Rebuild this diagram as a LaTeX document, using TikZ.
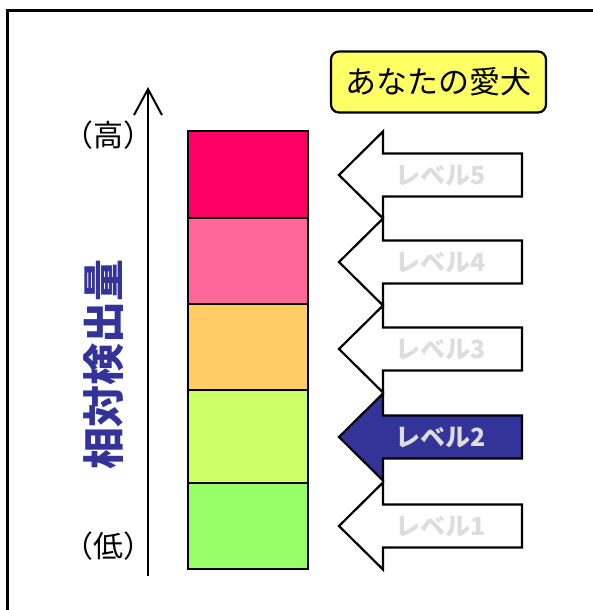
\documentclass[tikz,border=0pt]{standalone}
\usepackage{fontspec}
\setmainfont{Noto Sans CJK JP}
\usetikzlibrary{arrows.meta}
\definecolor{c5}{HTML}{FF0066}
\definecolor{c4}{HTML}{FF6699}
\definecolor{c3}{HTML}{FFCC66}
\definecolor{c2}{HTML}{CCFF66}
\definecolor{c1}{HTML}{99FF66}
\definecolor{navy}{HTML}{333399}
\definecolor{lvgray}{HTML}{DDDDDD}
\definecolor{boxyellow}{HTML}{FFFF66}
\tikzset{
  bar/.style={draw=black, line width=2.8pt},
  lvarrow/.style={draw=black, line width=2.2pt, line join=miter},
  lvtext/.style={font=\fontsize{25}{25}\selectfont\bfseries, inner sep=0pt},
  sidelabel/.style={font=\fontsize{30}{30}\selectfont, inner sep=0pt},
}
\newcommand{\lvarr}[5]{% y, name, fill, textcolor, text
  \path[lvarrow, fill=#3] (522,#1-21.5) -- (383,#1-21.5) -- (383,#1-43.5) -- (339,#1)
     -- (383,#1+43.5) -- (383,#1+21.5) -- (522,#1+21.5) -- cycle;
  \node[lvtext, text=#4] (#2) at (441,#1+1) {#5};
}
\begin{document}
\begin{tikzpicture}[x=1pt,y=-1pt]
\useasboundingbox (0,0) rectangle (593,610);
% frame
\draw[line width=3pt] (7,612) -- (7,11) -- (595,11);
% bars
\path[bar, fill=c5] (188,131) rectangle (308,218);
\path[bar, fill=c4] (188,218) rectangle (308,304);
\path[bar, fill=c3] (188,304) rectangle (308,390);
\path[bar, fill=c2] (188,390) rectangle (308,483);
\path[bar, fill=c1] (188,483) rectangle (308,569);
% axis
\coordinate (axbot) at (148,576);
\coordinate (axtop) at (148,87);
\draw[line width=2pt, -{Straight Barb[length=26pt,width=28pt,line width=2pt]}] (axbot) -- (axtop);
\node[sidelabel] (hi) at (108,135) {（高）};
\node[sidelabel] (lo) at (108,546) {（低）};
\node[font=\fontsize{42}{42}\selectfont\bfseries, text=navy, rotate=90, inner sep=0pt] (ylab) at (104,364) {相対検出量};
% yellow box
\node[draw=black, line width=2.2pt, fill=boxyellow, rounded corners=8pt,
      minimum width=215pt, minimum height=61pt, inner sep=0pt,
      font=\fontsize{31}{31}\selectfont] (dog) at (438.5,82) {あなたの愛犬};
% level arrows
\lvarr{175}{l5}{white}{lvgray}{レベル5}
\lvarr{262}{l4}{white}{lvgray}{レベル4}
\lvarr{349}{l3}{white}{lvgray}{レベル3}
\lvarr{526}{l1}{white}{lvgray}{レベル1}
\lvarr{437}{l2}{navy}{lvgray}{レベル2}
\end{tikzpicture}
\end{document}
